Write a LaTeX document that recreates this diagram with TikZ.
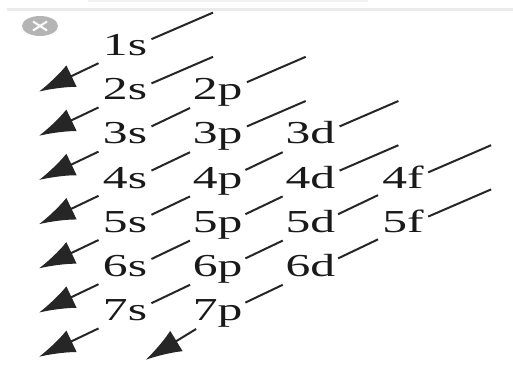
\documentclass[tikz,border=0pt]{standalone}
\usepackage{fontspec}
\usepackage{xcolor}
\usepackage{tikz}
\usetikzlibrary{arrows.meta}
\newfontfamily\orbfont[FakeStretch=1.55]{Liberation Serif}
\definecolor{inkgray}{HTML}{262626}
\definecolor{closegray}{HTML}{B4B4B4}

\begin{document}
\begin{tikzpicture}[
    x=0.5pt, y=-0.5pt,
    orb/.style={inner sep=2pt, text=black!90, text height=0.68em, text depth=0.2em,
                font=\orbfont\fontsize{16}{18}\selectfont},
    diag/.style={draw=inkgray, line width=1pt},
    arrow/.style={diag, -{Latex[length=18pt, width=12pt]}}
  ]
  \useasboundingbox (0,0) rectangle (513,364);

  % screenshot bar and close button
  \draw[black!8, line width=1.5pt] (7,9) -- (513,9);
  \draw[black!5, line width=0.8pt] (88,1) -- (368,1);
  \fill[closegray] (40,26) ellipse [x radius=9pt, y radius=5pt];
  \draw[white, line width=1pt] (33,21.5) -- (47,30.5) (33,30.5) -- (47,21.5);

  % orbitals
  \foreach \l/\c/\rows in {s/0/{1,2,3,4,5,6,7}, p/1/{2,3,4,5,6,7}, d/2/{3,4,5,6}, f/3/{4,5}}
    \foreach \n in \rows
      \node[orb] (\l\n) at ({125+92.7*\c}, {50.6+44.2*(\n-1)}) {\n\l};

  % free ends of the diagonals
  \foreach \o in {s1,s2,p2,p3,d3,d4,f4,f5}
    \coordinate (top-\o) at ([shift={(88,-38)}]\o.center);
  \foreach \o in {s1,s2,s3,s4,s5,s6,s7}
    \coordinate (tip-\o) at ([shift={(-86,41)}]\o.center);
  \coordinate (tip-p7) at ([shift={(-72,44)}]p7.center);

  \draw[arrow] (top-s1) -- (s1) -- (tip-s1);
  \draw[arrow] (top-s2) -- (s2) -- (tip-s2);
  \draw[arrow] (top-p2) -- (p2) -- (s3) -- (tip-s3);
  \draw[arrow] (top-p3) -- (p3) -- (s4) -- (tip-s4);
  \draw[arrow] (top-d3) -- (d3) -- (p4) -- (s5) -- (tip-s5);
  \draw[arrow] (top-d4) -- (d4) -- (p5) -- (s6) -- (tip-s6);
  \draw[arrow] (top-f4) -- (f4) -- (d5) -- (p6) -- (s7) -- (tip-s7);
  \draw[arrow] (top-f5) -- (f5) -- (d6) -- (p7) -- (tip-p7);
\end{tikzpicture}
\end{document}
